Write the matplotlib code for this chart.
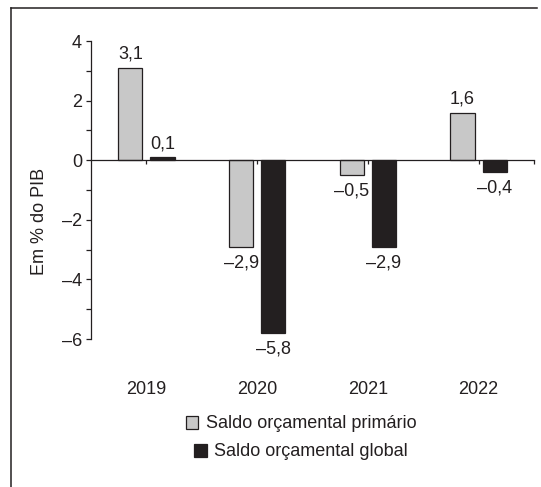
import matplotlib
matplotlib.use("Agg")
import matplotlib.pyplot as plt
import numpy as np
from matplotlib.lines import Line2D
from matplotlib.patches import Patch
import matplotlib.transforms as mtransforms

years = ["2019", "2020", "2021", "2022"]
primario = [3.1, -2.9, -0.5, 1.6]
global_ = [0.1, -5.8, -2.9, -0.4]
series_names = ["Saldo orçamental primário", "Saldo orçamental global"]
yticks = [-6, -4, -2, 0, 2, 4]

INK = "#231f20"
GRAY = "#c8c8c8"
FS = 13

plt.rcParams['font.family'] = ['Liberation Sans', 'DejaVu Sans']

W, H = 541, 487
fig = plt.figure(figsize=(W / 100, H / 100), dpi=100)
ax = fig.add_axes([91 / W, 1 - 339 / H, (534 - 91) / W, (339 - 41) / H])

x = np.arange(len(years))
bw = 0.22
off = 0.145
b1 = ax.bar(x - off, primario, width=bw, color=GRAY, edgecolor=INK, linewidth=0.9, zorder=2)
b2 = ax.bar(x + off, global_, width=bw, color=INK, edgecolor=INK, linewidth=0.9, zorder=2)

def fmt(v):
    s = f"{abs(v):.1f}".replace('.', ',')
    return ("–" + s) if v < 0 else s

def fmt_int(v):
    return ("–" + str(abs(v))) if v < 0 else str(v)

for bars, vals in ((b1, primario), (b2, global_)):
    for rect, v in zip(bars, vals):
        cx = rect.get_x() + rect.get_width() / 2
        if v >= 0:
            ax.annotate(fmt(v), (cx, v), xytext=(0, 3.5), textcoords='offset points',
                        ha='center', va='bottom', fontsize=FS, color=INK, annotation_clip=False)
        else:
            ax.annotate(fmt(v), (cx, v), xytext=(0, -5.5), textcoords='offset points',
                        ha='center', va='top', fontsize=FS, color=INK, annotation_clip=False)

ax.set_xlim(-0.5, 3.5)
ax.set_ylim(-6, 4)
for s in ['top', 'right']:
    ax.spines[s].set_visible(False)
ax.spines['bottom'].set_position(('data', 0))
ax.spines['bottom'].set_bounds(-0.5, 3.5)
ax.spines['left'].set_bounds(-6, 4)
for s in ['bottom', 'left']:
    ax.spines[s].set_color(INK)
    ax.spines[s].set_linewidth(0.9)

ax.set_xticks(list(x) + [3.5])
ax.set_xticklabels([])
ax.tick_params(axis='x', direction='out', length=3, width=0.9, color=INK)

ax.set_yticks(yticks)
ax.set_yticklabels([fmt_int(v) for v in yticks])
ax.set_yticks([-5, -3, -1, 1, 3], minor=True)
ax.tick_params(axis='y', which='both', direction='out', length=3.5, width=0.9, color=INK,
               labelsize=FS, labelcolor=INK, pad=3)

# year labels below the plot
trans = mtransforms.blended_transform_factory(ax.transData, fig.transFigure)
for xi, yr in zip(x, years):
    ax.text(xi, 1 - 390 / H, yr, transform=trans, ha='center', va='center',
            fontsize=FS, color=INK, clip_on=False)

fig.text(39 / W, 1 - 221 / H, "Em % do PIB", rotation=90, ha='center', va='center',
         fontsize=FS, color=INK)

# legend rows, each centered
h1 = Patch(facecolor=GRAY, edgecolor=INK, linewidth=0.9)
h2 = Patch(facecolor=INK, edgecolor=INK, linewidth=0.9)
for h, name, yc in ((h1, series_names[0], 424), (h2, series_names[1], 452)):
    fig.legend([h], [name], loc='center', bbox_to_anchor=(301 / W, 1 - yc / H),
               frameon=False, fontsize=FS, handlelength=0.7, handleheight=0.7,
               handletextpad=0.4, borderpad=0, labelcolor=INK)

# outer frame (top and left)
fig.add_artist(Line2D([11 / W, 537 / W], [1 - 8 / H, 1 - 8 / H], color=INK, lw=1.1,
                      transform=fig.transFigure))
fig.add_artist(Line2D([11 / W, 11 / W], [0, 1 - 8 / H], color=INK, lw=1.1,
                      transform=fig.transFigure))

fig.savefig("out.png", dpi=100)
